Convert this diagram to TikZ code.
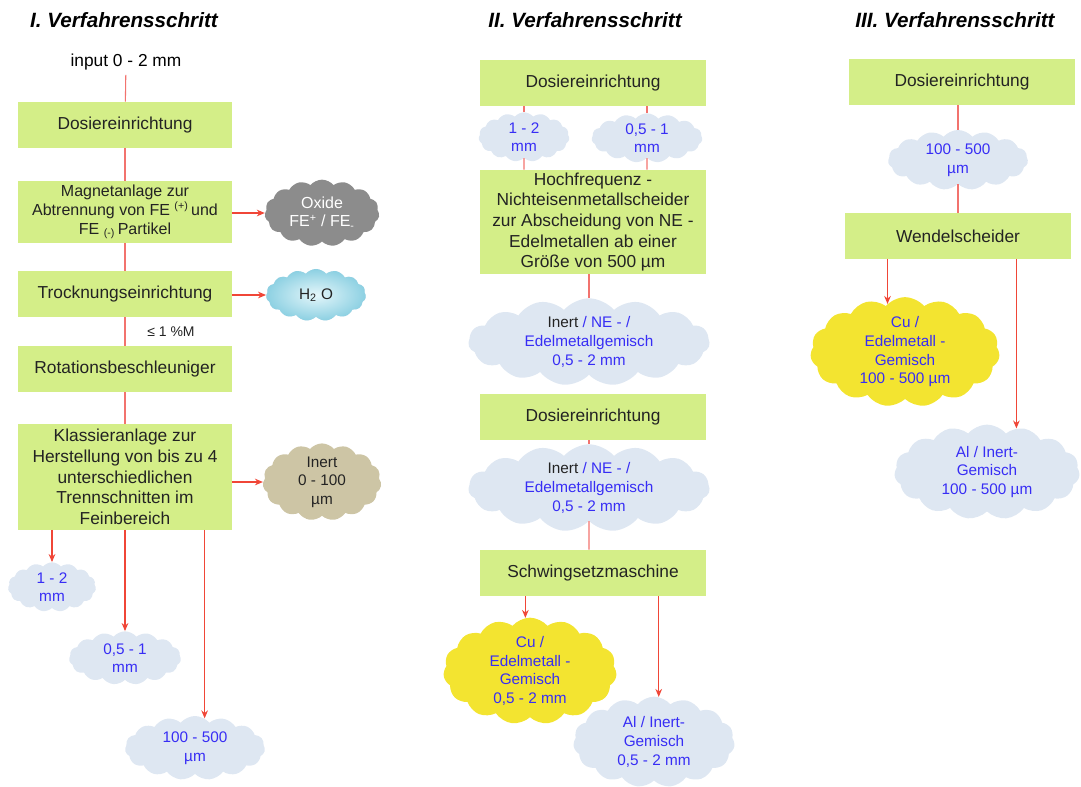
\documentclass[tikz,border=0pt]{standalone}
\usepackage{fontspec}
\setmainfont{Liberation Sans}
\usepackage{xcolor}
\usepackage{tikz}
\usetikzlibrary{shapes.symbols, arrows.meta, positioning}
\definecolor{boxgreen}{RGB}{212,238,136}
\definecolor{cloudblue}{RGB}{222,231,242}
\definecolor{cloudyellow}{RGB}{243,228,48}
\definecolor{cloudgrey}{RGB}{140,140,140}
\definecolor{cloudsand}{RGB}{205,197,165}
\definecolor{waterlight}{RGB}{228,246,250}
\definecolor{waterdark}{RGB}{140,208,226}
\definecolor{linkred}{RGB}{240,70,55}
\definecolor{linkpink}{RGB}{242,115,110}
\definecolor{labelblue}{RGB}{55,45,245}
\definecolor{textdark}{RGB}{35,35,35}

\begin{document}
\begin{tikzpicture}[x=0.75pt, y=-0.75pt,
    stepbox/.style={rectangle, fill=boxgreen, minimum width=160pt, minimum height=34.5pt,
                    align=center, text=textdark, inner sep=2pt,
                    font=\fontsize{13}{15.5}\selectfont},
    puff/.style={cloud, cloud puffs=15, cloud puff arc=100, cloud ignores aspect,
                 fill=cloudblue, align=center, text=labelblue, inner sep=0pt,
                 font=\fontsize{11.5}{14}\selectfont},
    link/.style={draw=linkpink, line width=0.8pt},
    flow/.style={draw=linkred, line width=0.8pt, -{Stealth[length=6pt, width=5pt]}},
    heading/.style={font=\fontsize{15.5}{18}\selectfont\bfseries\itshape}]
  \useasboundingbox (0,0) rectangle (1081,787);

  % I. Verfahrensschritt
  \node[heading] (t1) at (124,20) {I. Verfahrensschritt};
  \node[font=\fontsize{13}{15.5}\selectfont] (in) at (126,62) {input 0 - 2 mm};
  \node[stepbox] (d1) at (125,125) {Dosiereinrichtung};
  \node[stepbox, minimum height=46.5pt, font=\fontsize{12}{14}\selectfont]
    (mag) at (125,212) {Magnetanlage zur\\Abtrennung von FE \textsuperscript{(+)}\,und\\FE \textsubscript{(-)}\,Partikel};
  \node[stepbox] (dry) at (125,294) {Trocknungseinrichtung};
  \node[stepbox] (rot) at (125,369) {Rotationsbeschleuniger};
  \node[stepbox, minimum height=79pt]
    (kla) at (125,477) {Klassieranlage zur\\Herstellung von bis zu 4\\unterschiedlichen\\Trennschnitten im\\Feinbereich};

  \node[puff, fill=cloudgrey, text=white, minimum width=86pt, minimum height=50pt,
        font=\fontsize{12}{14}\selectfont]
    (ox) at (322,213) {Oxide\\FE\textsuperscript{+} / FE\textsubscript{-}};
  \node[puff, shade, inner color=waterlight, outer color=waterdark, text=textdark,
        minimum width=75pt, minimum height=39pt]
    (h2o) at (316,295) {H\textsubscript{2} O};
  \node[puff, fill=cloudsand, text=textdark, minimum width=89pt, minimum height=52pt]
    (inert) at (322,482) {Inert\\0 - 100\\µm};
  \node[puff, minimum width=66pt, minimum height=37pt] (f12) at (52,587) {1 - 2\\mm};
  \node[puff, minimum width=84pt, minimum height=40pt] (f051) at (125,658) {0,5 - 1\\mm};
  \node[puff, minimum width=105pt, minimum height=48pt] (ffine) at (195,748) {100 - 500\\µm};

  \draw[link] (in) -- (d1);
  \draw[link] (d1) -- (mag);
  \draw[link] (mag) -- (dry);
  \draw[link] (dry) -- (rot) node[midway, right=13pt, text=textdark,
        font=\fontsize{10.5}{12}\selectfont] (lim) {≤ 1 \%M};
  \draw[link] (rot) -- (kla);
  \draw[flow] (mag.east |- ox.west) -- (ox.west);
  \draw[flow] (dry.east |- h2o.west) -- (h2o.west);
  \draw[flow] (kla.east |- inert.west) -- (inert.west);
  \draw[flow] (kla.south -| f12) -- (f12.north);
  \draw[flow] (kla.south -| f051) -- (f051.north);
  \draw[flow] (kla.south -| ffine.72) -- (ffine.72);

  % II. Verfahrensschritt
  \node[heading] (t2) at (585,20) {II. Verfahrensschritt};
  \node[stepbox, minimum width=169.5pt] (d2) at (593,83) {Dosiereinrichtung};
  \node[puff, minimum width=68pt, minimum height=37pt] (g12) at (524,137) {1 - 2\\mm};
  \node[puff, minimum width=83pt, minimum height=37pt] (g051) at (647,138) {0,5 - 1\\mm};
  \node[stepbox, minimum width=169.5pt, minimum height=78pt]
    (hf) at (593,222) {Hochfrequenz -\\Nichteisenmetallscheider\\zur Abscheidung von NE -\\Edelmetallen ab einer\\Größe von 500 µm};
  \node[puff, minimum width=181pt, minimum height=55pt]
    (mix1) at (589,342) {{\color{textdark}Inert} / NE - /\\Edelmetallgemisch\\0,5 - 2 mm};
  \node[stepbox, minimum width=169.5pt] (d3) at (593,417) {Dosiereinrichtung};
  \node[puff, minimum width=181pt, minimum height=49pt]
    (mix2) at (589,488) {{\color{textdark}Inert} / NE - /\\Edelmetallgemisch\\0,5 - 2 mm};
  \node[stepbox, minimum width=169.5pt] (sw) at (593,573) {Schwingsetzmaschine};
  \node[puff, fill=cloudyellow, minimum width=130pt, minimum height=74pt]
    (cu1) at (530,671) {Cu /\\Edelmetall -\\Gemisch\\0,5 - 2 mm};
  \node[puff, minimum width=121pt, minimum height=68pt]
    (al1) at (654,742) {Al / Inert-\\Gemisch\\0,5 - 2 mm};

  \draw[link] (d2.south -| g12) -- (g12.north);
  \draw[link] (g12.south) -- (hf.north -| g12);
  \draw[link] (d2.south -| g051) -- (g051.north);
  \draw[link] (g051.south) -- (hf.north -| g051);
  \draw[link] (hf.south -| mix1) -- (mix1.north);
  \draw[link] (d3.south -| mix2) -- (mix2.north);
  \draw[link] (mix2.south) -- (sw.north -| mix2);
  \draw[flow] (sw.south -| cu1.95) -- (cu1.95);
  \draw[flow] (sw.south -| al1.84) -- (al1.84);

  % III. Verfahrensschritt
  \node[heading] (t3) at (955,20) {III. Verfahrensschritt};
  \node[stepbox, minimum width=169pt] (d4) at (962,82) {Dosiereinrichtung};
  \node[puff, minimum width=105pt, minimum height=45pt] (h15) at (958,160) {100 - 500\\µm};
  \node[stepbox, minimum width=170pt] (wen) at (958,236) {Wendelscheider};
  \node[puff, fill=cloudyellow, minimum width=142pt, minimum height=71pt]
    (cu2) at (905,352) {Cu /\\Edelmetall -\\Gemisch\\100 - 500 µm};
  \node[puff, minimum width=139pt, minimum height=71pt]
    (al2) at (987,472) {Al / Inert-\\Gemisch\\100 - 500 µm};

  \draw[link] (d4.south -| h15) -- (h15.north);
  \draw[link] (h15.south) -- (wen.north -| h15);
  \draw[flow] (wen.south -| cu2.110) -- (cu2.110);
  \draw[flow] (wen.south -| al2.56) -- (al2.56);
\end{tikzpicture}
\end{document}
